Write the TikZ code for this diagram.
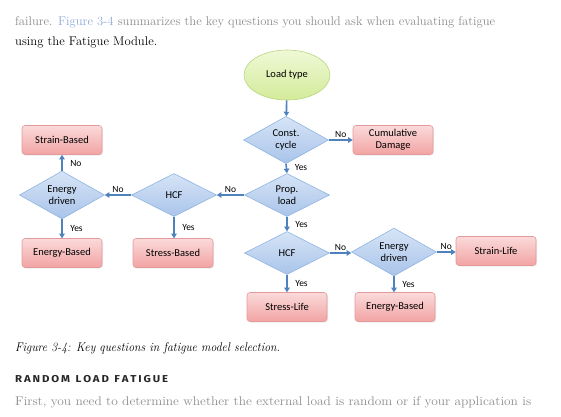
\documentclass[tikz,border=0pt]{standalone}
\usepackage{graphicx}
\usepackage{fontspec}
\newfontfamily\diafont{Carlito}
\newfontfamily\headfont{Fira Sans}
\usetikzlibrary{shapes.geometric,arrows.meta,shadows}
\definecolor{arrowblue}{HTML}{4F81BD}
\definecolor{boxtop}{HTML}{FBDADA}
\definecolor{boxbot}{HTML}{F2A3A3}
\definecolor{boxline}{HTML}{E39A9A}
\definecolor{diatop}{HTML}{D6E4F6}
\definecolor{diabot}{HTML}{A9C4EA}
\definecolor{dialine}{HTML}{8EB4E3}
\definecolor{elltop}{HTML}{EFF9D6}
\definecolor{ellbot}{HTML}{D3EB9A}
\definecolor{ellline}{HTML}{B9D67E}
\definecolor{bodygray}{HTML}{8C8C8C}
\definecolor{linkblue}{HTML}{8FA8D8}
\tikzset{
  resultbox/.style={rectangle, rounded corners=3pt, minimum width=80pt, minimum height=29pt,
    inner sep=0pt, top color=boxtop, bottom color=boxbot, draw=boxline, line width=0.6pt,
    font=\diafont\fontsize{10.5}{12}\selectfont,
    drop shadow={shadow xshift=1pt, shadow yshift=-1pt, opacity=0.15}},
  question/.style={diamond, minimum width=85pt, minimum height=43pt, inner sep=0pt,
    top color=diatop, bottom color=diabot, draw=dialine, line width=0.6pt, align=center,
    font=\diafont\fontsize{10.5}{12}\selectfont},
  start/.style={ellipse, minimum width=86pt, minimum height=50pt, inner sep=0pt,
    top color=elltop, bottom color=ellbot, draw=ellline, line width=0.6pt,
    font=\diafont\fontsize{10.5}{12}\selectfont},
  flow/.style={draw=arrowblue, line width=1.6pt, -{Triangle[length=4.5pt,width=5.5pt]}},
  lab/.style={font=\diafont\fontsize{9.5}{11}\selectfont, inner sep=1.5pt},
  bodytext/.style={anchor=base west, inner sep=0pt, font=\fontsize{12.6}{15}\selectfont}
}
\begin{document}
\begin{tikzpicture}[x=1pt,y=-1pt]
\useasboundingbox[fill=white] (0,0) rectangle (561,416);
% page text
\node[bodytext, text=bodygray] (t1) at (15,25) {\resizebox{480pt}{\height}{failure. \textcolor{linkblue}{Figure 3-4} summarizes the key questions you should ask when evaluating fatigue}};
\node[bodytext, text=black] (t2) at (15,45) {\resizebox{142pt}{\height}{using the Fatigue Module.}};
\node[bodytext, text=black, font=\fontsize{12.6}{15}\itshape] (cap) at (15,351) {\resizebox{265pt}{\height}{Figure 3-4: Key questions in fatigue model selection.}};
\node[bodytext, text=black!85, font=\headfont\bfseries\fontsize{10}{12}\selectfont] (head) at (15,382) {\resizebox{153pt}{\height}{R\,A\,N\,D\,O\,M\ \ L\,O\,A\,D\ \ F\,A\,T\,I\,G\,U\,E}};
\node[bodytext, text=bodygray] (t3) at (15,405) {\resizebox{516pt}{\height}{First, you need to determine whether the external load is random or if your application is}};
% diagram nodes
\node[start] (load) at (287,75) {Load type};
\node[question] (const) at (286,140) {Const.\\cycle};
\node[resultbox, align=center] (cum) at (393,140) {Cumulative\\Damage};
\node[question] (prop) at (287,195) {Prop.\\load};
\node[question] (hcfl) at (174,195) {HCF};
\node[question] (enl) at (62,195) {Energy\\driven};
\node[resultbox] (strainb) at (62,140) {Strain-Based};
\node[resultbox] (energyl) at (62,253) {Energy-Based};
\node[resultbox] (stressb) at (173,253) {Stress-Based};
\node[question] (hcfc) at (287,253) {HCF};
\node[question] (enr) at (394,252) {Energy\\driven};
\node[resultbox] (strainl) at (496,251) {Strain-Life};
\node[resultbox] (energyr) at (395,307) {Energy-Based};
\node[resultbox] (stressl) at (287,307) {Stress-Life};
% connectors
\draw[flow] (load) -- (const);
\draw[flow] (const.east) -- node[lab, above] {No} (cum.west |- const.east);
\draw[flow] (const.south) -- node[lab, right, xshift=6pt, yshift=1pt] {Yes} (prop.north);
\draw[flow] (prop.west) -- node[lab, above] {No} (hcfl.east);
\draw[flow] (hcfl.west) -- node[lab, above] {No} (enl.east);
\draw[flow] (enl.north) -- node[lab, right, xshift=6pt, yshift=-1pt] {No} (strainb.south);
\draw[flow] (enl.south) -- node[lab, right, xshift=6pt] {Yes} (energyl.north);
\draw[flow] (hcfl.south) -- node[lab, right, xshift=6pt] {Yes} (stressb.north -| hcfl.south);
\draw[flow] (prop.south) -- node[lab, right, xshift=6pt] {Yes} (hcfc.north);
\draw[flow] (hcfc.east) -- node[lab, above] {No} (enr.west |- hcfc.east);
\draw[flow] (enr.east) -- node[lab, above] {No} (strainl.west |- enr.east);
\draw[flow] (enr.south) -- node[lab, right, xshift=6pt] {Yes} (energyr.north -| enr.south);
\draw[flow] (hcfc.south) -- node[lab, right, xshift=6pt] {Yes} (stressl.north);
\end{tikzpicture}
\end{document}
